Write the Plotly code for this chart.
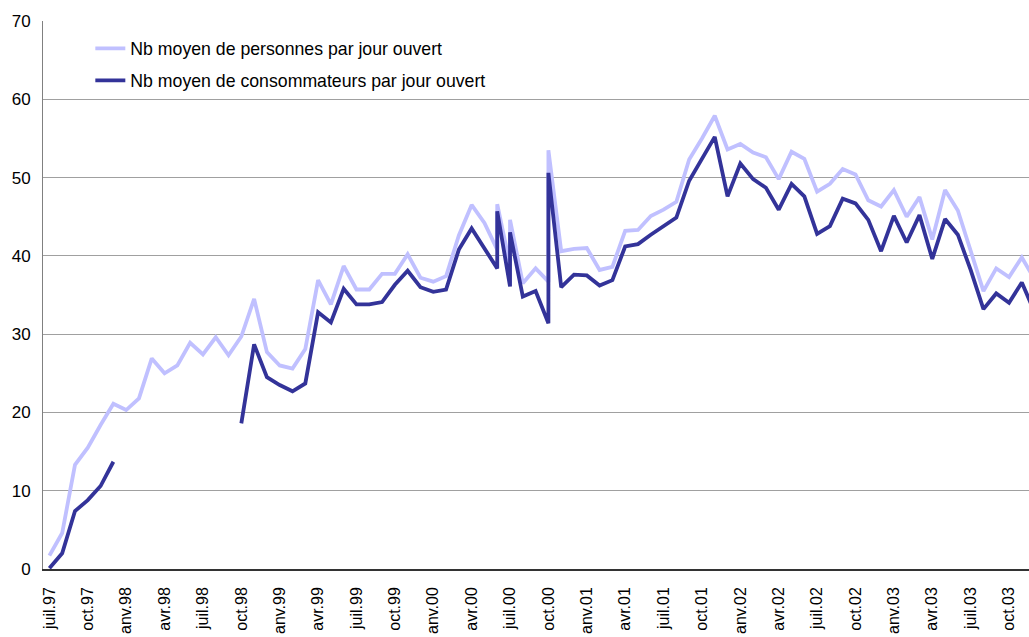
import plotly.graph_objects as go

# ---- Données ----
mois_doubles = ["2000-06", "2000-07", "2000-10"]  # deux relevés le même mois

personnes = [
    1.7, 4.6, 13.3, 15.5, 18.4, 21.1, 20.3, 21.8, 26.9, 25.0,
    26.0, 28.9, 27.4, 29.6, 27.3, 29.7, 34.5, 27.7, 26.0, 25.6,
    28.1, 36.9, 33.8, 38.7, 35.7, 35.7, 37.7, 37.7, 40.2, 37.2,
    36.7, 37.4, 42.6, 46.5, 44.2,
    40.8, 46.6,
    38.8, 44.6,
    36.5, 38.4,
    36.7, 53.5,
    40.6, 40.9, 41.0, 38.2, 38.6, 43.2, 43.3, 45.1, 45.9, 46.9,
    52.3, 55.0, 57.9, 53.6, 54.3, 53.2, 52.6, 49.8, 53.3, 52.4,
    48.2, 49.2, 51.1, 50.4, 47.1, 46.3, 48.4, 45.0, 47.5, 42.1,
    48.4, 45.8, 40.8, 35.5, 38.4, 37.3, 39.8, 37.0,
]

consommateurs = [
    0.1, 2.0, 7.4, 8.8, 10.6, 13.7,
    None, None, None, None, None, None, None, None, None,
    18.6, 28.7, 24.5, 23.5, 22.7, 23.7, 32.8, 31.5, 35.8, 33.8,
    33.8, 34.1, 36.3, 38.1, 36.0, 35.4, 35.7, 40.8, 43.5, 41.0,
    38.4, 45.7,
    36.1, 43.0,
    34.8, 35.5,
    31.4, 50.6,
    36.0, 37.6, 37.5, 36.2, 36.9, 41.2, 41.5, 42.7, 43.8, 44.9,
    49.6, 52.5, 55.2, 47.6, 51.8, 49.8, 48.7, 45.9, 49.2, 47.6,
    42.8, 43.8, 47.3, 46.7, 44.6, 40.6, 45.1, 41.7, 45.2, 39.6,
    44.7, 42.7, 38.2, 33.2, 35.2, 34.0, 36.6, 32.8,
]

etiquettes = [
    "juil.97", "oct.97", "anv.98", "avr.98", "juil.98", "oct.98",
    "anv.99", "avr.99", "juil.99", "oct.99", "anv.00", "avr.00",
    "juil.00", "oct.00", "anv.01", "avr.01", "juil.01", "oct.01",
    "anv.02", "avr.02", "juil.02", "oct.02", "anv.03", "avr.03",
    "juil.03", "oct.03",
]

# ---- Axe des mois (juil.97 -> déc.03) ----
mois = []
a, m = 1997, 7
while (a, m) <= (2003, 12):
    s = f"{a}-{m:02d}"
    mois.append(s)
    if s in mois_doubles:
        mois.append(s)
    m += 1
    if m > 12:
        m, a = 1, a + 1


def rang(s):
    aa, mm = s.split("-")
    return (int(aa) - 1997) * 12 + int(mm) - 7


x = [rang(s) for s in mois]
tickvals = [3 * k for k in range(len(etiquettes))]

FONT = "Liberation Sans, Arial, sans-serif"

fig = go.Figure()
fig.add_trace(go.Scatter(
    x=x, y=personnes, mode="lines",
    name="Nb moyen de personnes par jour ouvert",
    line=dict(color="#C0C0FF", width=3.8),
    legendgroup="a",
))
fig.add_trace(go.Scatter(
    x=x, y=consommateurs, mode="lines",
    name="Nb moyen de consommateurs par jour ouvert",
    line=dict(color="#333399", width=3.8),
    connectgaps=False,
    legendgroup="b",
))

fig.update_layout(
    width=1029, height=637,
    margin=dict(l=43, r=0, t=21, b=68),
    paper_bgcolor="white", plot_bgcolor="white",
    font=dict(family=FONT, color="black", size=16),
    showlegend=True,
    legend=dict(
        x=0.048, y=0.983, xanchor="left", yanchor="top",
        bgcolor="rgba(0,0,0,0)", font=dict(size=17.7, family=FONT),
        tracegroupgap=6, traceorder="grouped",
    ),
    xaxis=dict(
        range=[-0.5, 76.56], tickmode="array", tickvals=tickvals,
        ticktext=etiquettes, tickangle=-90, showgrid=False,
        zeroline=False, showline=True, linecolor="#333333", linewidth=1.5,
        ticks="", ticklabelstandoff=10, tickfont=dict(size=16),
        automargin=False,
    ),
    yaxis=dict(
        range=[0, 70], dtick=10, showgrid=True, gridcolor="#A0A0A0",
        gridwidth=1, zeroline=False, showline=True, linecolor="#808080",
        linewidth=1, ticks="", ticklabelstandoff=8, tickfont=dict(size=17),
        automargin=False,
    ),
)

fig.write_html(
    "out.html",
    config={"displayModeBar": False},
    post_script="document.body.style.margin='0';document.body.style.overflow='hidden';",
)
